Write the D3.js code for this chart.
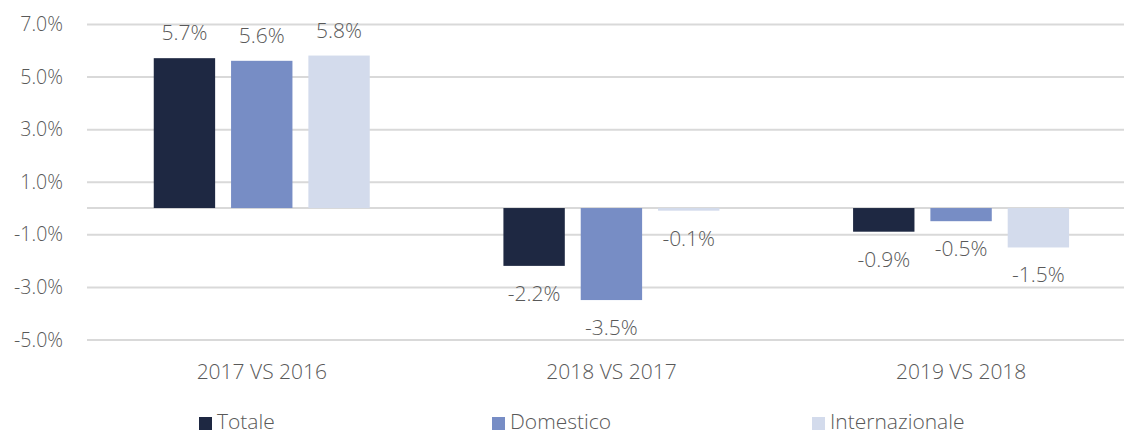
<!DOCTYPE html>
<html>
<head>
<meta charset="utf-8">
<script src="https://cdn.jsdelivr.net/npm/d3@7"></script>
<style>
  body { margin: 0; background: #fff; }
  text { font-family: "Open Sans", sans-serif; fill: #595959; font-weight: 300; }
</style>
</head>
<body>
<div id="container"></div>
<script>
const width = 1124,
  height = 435;

// data
const categories = ["2017 VS 2016", "2018 VS 2017", "2019 VS 2018"];
const series = ["Totale", "Domestico", "Internazionale"];
const totale = [5.7, -2.2, -0.9];
const domestico = [5.6, -3.5, -0.5];
const internazionale = [5.8, -0.1, -1.5];
const yTicks = [7, 5, 3, 1, -1, -3, -5];
const colors = ["#1e2842", "#778dc5", "#d3dbec"];

const values = [totale, domestico, internazionale];
const rows = [];
series.forEach((s, si) => {
  categories.forEach((c, ci) => {
    rows.push({ series: s, category: c, value: values[si][ci] });
  });
});

/* SCALES */
const yScale = d3.scaleLinear()
  .domain([-5, 7])
  .range([339.5, 24]);

const xScale = d3.scaleBand()
  .domain(categories)
  .range([87, 1136]);

const xInner = d3.scaleBand()
  .domain(series)
  .range([66.75, 282.75])
  .paddingInner(0.206);

const colorScale = d3.scaleOrdinal()
  .domain(series)
  .range(colors);

const svg = d3.select("#container")
  .append("svg")
  .attr("width", width)
  .attr("height", height);

// gridlines + y labels
const yAxis = d3.axisLeft(yScale)
  .tickValues(yTicks)
  .tickSize(-(width - 87))
  .tickFormat(d => d.toFixed(1) + "%");

svg.append("g")
  .attr("transform", `translate(87, 0)`)
  .call(yAxis)
  .call(g => g.select(".domain").remove())
  .call(g => g.selectAll("line").attr("stroke", "#d9d9d9").attr("stroke-width", 2))
  .call(g => g.selectAll("text")
    .attr("x", -24)
    .attr("dy", "0.34em")
    .style("font-family", "'Open Sans', sans-serif")
    .style("font-weight", 300)
    .style("font-size", "19.5px")
    .style("fill", "#595959"));

// zero line
svg.append("line")
  .attr("x1", 87)
  .attr("x2", width)
  .attr("y1", yScale(0))
  .attr("y2", yScale(0))
  .attr("stroke", "#d9d9d9")
  .attr("stroke-width", 2);

/* BARS */
svg.selectAll(".bar")
  .data(rows)
  .join("rect")
  .attr("class", "bar")
  .attr("x", d => xScale(d.category) + xInner(d.series))
  .attr("width", xInner.bandwidth())
  .attr("y", d => yScale(Math.max(0, d.value)))
  .attr("height", d => Math.abs(yScale(d.value) - yScale(0)))
  .attr("fill", d => colorScale(d.series));

// value labels
svg.selectAll(".label")
  .data(rows)
  .join("text")
  .attr("class", "label")
  .attr("x", d => xScale(d.category) + xInner(d.series) + xInner.bandwidth() / 2)
  .attr("y", d => d.value >= 0 ? yScale(d.value) - 18 : yScale(d.value) + 35)
  .attr("text-anchor", "middle")
  .style("font-size", "21px")
  .text(d => d.value.toFixed(1) + "%");

// category labels
svg.selectAll(".cat")
  .data(categories)
  .join("text")
  .attr("class", "cat")
  .attr("x", d => xScale(d) + xScale.bandwidth() / 2)
  .attr("y", 379)
  .attr("text-anchor", "middle")
  .style("font-size", "21px")
  .text(d => d);

// legend
const legendX = [199, 492, 812];
const legend = svg.selectAll(".legend")
  .data(series)
  .join("g")
  .attr("class", "legend")
  .attr("transform", (d, i) => `translate(${legendX[i]}, 417)`);

legend.append("rect")
  .attr("width", 13)
  .attr("height", 13)
  .attr("fill", d => colorScale(d));

legend.append("text")
  .attr("x", 18)
  .attr("y", 12)
  .style("font-size", "21px")
  .text(d => d);
</script>
</body>
</html>
